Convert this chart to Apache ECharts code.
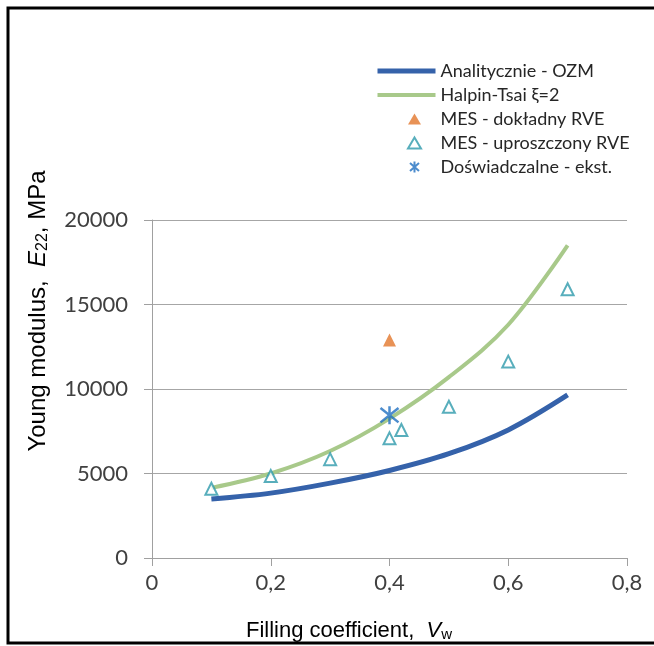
<!DOCTYPE html>
<html>
<head>
<meta charset="utf-8">
<title>Young modulus vs filling coefficient</title>
<script src="https://cdn.jsdelivr.net/npm/echarts@6/dist/echarts.min.js"></script>
<style>
  html, body { margin: 0; padding: 0; background: #ffffff; }
  #main { width: 654px; height: 646px; }
</style>
</head>
<body>
<div id="main"></div>
<script>
// dane
var seriesNames = ['Analitycznie - OZM', 'Halpin-Tsai ξ=2', 'MES - dokładny RVE', 'MES - uproszczony RVE', 'Doświadczalne - ekst.']
var curveV = [0.1, 0.2, 0.3, 0.4, 0.5, 0.6, 0.7]
var analyticE = [3490, 3840, 4430, 5180, 6170, 7580, 9650]
var halpinE = [4150, 5000, 6330, 8250, 10700, 13800, 18500]
var mesFullV = [0.4]
var mesFullE = [12900]
var mesSimpleV = [0.1, 0.2, 0.3, 0.4, 0.42, 0.5, 0.6, 0.7]
var mesSimpleE = [4100, 4850, 5850, 7080, 7570, 8950, 11620, 15900]
var expV = [0.4]
var expE = [8450]
var xTicks = [0, 0.2, 0.4, 0.6, 0.8]
var yTicks = [0, 5000, 10000, 15000, 20000]

function pairs(xs, ys) {
  var out = []
  for (var i = 0; i < xs.length; i++) {
    out.push([xs[i], ys[i]])
  }
  return out
}

var tickFont = 'Lato, "Liberation Sans", sans-serif'
var titleFont = '"Liberation Sans", Arial, sans-serif'
var asterisk = 'path://M0,-10L0,10M-7,-8L7,8M-7,8L7,-8'
// ikony legendy: pierwsze dwa M wyznaczaja ramke 58x14, znak lezy w niej
var legendTriangle = 'path://M0,0M58,14M37,1.5L43.5,12.5L30.5,12.5Z'
var legendAsterisk = 'path://M0,0M58,14M37,1.5L37,12.5M32.5,3L41.5,11M32.5,11L41.5,3'

var chart = echarts.init(document.getElementById('main'))
var option = {
  animation: false,
  backgroundColor: '#ffffff',
  grid: { left: 152, right: 27, top: 220, bottom: 88 },
  legend: {
    orient: 'vertical',
    left: 370,
    top: 56,
    itemWidth: 58,
    itemHeight: 14,
    itemGap: 4,
    textStyle: { fontFamily: tickFont, fontSize: 18, color: '#262626', lineHeight: 20 },
    data: [
      { name: seriesNames[0], icon: 'path://M0,0L58,0L58,5L0,5Z' },
      { name: seriesNames[1], icon: 'path://M0,0L58,0L58,4L0,4Z' },
      { name: seriesNames[2], icon: legendTriangle },
      { name: seriesNames[3], icon: legendTriangle },
      { name: seriesNames[4], icon: legendAsterisk }
    ]
  },
  xAxis: {
    type: 'value',
    min: xTicks[0],
    max: xTicks[xTicks.length - 1],
    interval: 0.2,
    splitLine: { show: false },
    axisLine: { lineStyle: { color: '#a0a0a0', width: 1 } },
    axisTick: { show: true, length: 8, lineStyle: { color: '#a0a0a0' } },
    axisLabel: {
      margin: 14,
      fontFamily: tickFont,
      fontSize: 22,
      color: '#404040',
      formatter: function(v) { return String(Math.round(v * 10) / 10).replace('.', ',') }
    }
  },
  yAxis: {
    type: 'value',
    min: yTicks[0],
    max: yTicks[yTicks.length - 1],
    interval: 5000,
    splitLine: { lineStyle: { color: '#a6a6a6', width: 1 } },
    axisLine: { show: true, lineStyle: { color: '#a0a0a0', width: 1 } },
    axisTick: { show: true, length: 8, lineStyle: { color: '#a0a0a0' } },
    axisLabel: {
      margin: 24,
      fontFamily: tickFont,
      fontSize: 22,
      color: '#404040',
      formatter: function(v) { return String(v) }
    }
  },
  graphic: [
    {
      type: 'rect',
      silent: true,
      shape: { x: 8, y: 8, width: 700, height: 635 },
      style: { fill: 'none', stroke: '#000000', lineWidth: 3 }
    },
    {
      type: 'text',
      x: 349,
      y: 631,
      style: {
        text: 'Filling coefficient,  {i|V}{s|w}',
        fontFamily: titleFont,
        fontSize: 22,
        fill: '#000000',
        align: 'center',
        verticalAlign: 'middle',
        rich: {
          i: { fontFamily: titleFont, fontSize: 22, fontStyle: 'italic', fill: '#000000' },
          s: { fontFamily: titleFont, fontSize: 15, fill: '#000000', verticalAlign: 'bottom', padding: [8, 0, 0, 0] }
        }
      }
    },
    {
      type: 'text',
      x: 38,
      y: 311,
      rotation: Math.PI / 2,
      style: {
        text: 'Young modulus,  {i|E}{s|22}, MPa',
        fontFamily: titleFont,
        fontSize: 24,
        fill: '#000000',
        align: 'center',
        verticalAlign: 'middle',
        rich: {
          i: { fontFamily: titleFont, fontSize: 24, fontStyle: 'italic', fill: '#000000' },
          s: { fontFamily: titleFont, fontSize: 16, fill: '#000000', verticalAlign: 'bottom', padding: [9, 0, 0, 0] }
        }
      }
    }
  ],
  series: [
    {
      name: seriesNames[1],
      type: 'line',
      smooth: 0.35,
      symbol: 'none',
      z: 2,
      lineStyle: { color: '#a8c98a', width: 4 },
      itemStyle: { color: '#a8c98a' },
      data: pairs(curveV, halpinE)
    },
    {
      name: seriesNames[0],
      type: 'line',
      smooth: 0.35,
      symbol: 'none',
      z: 3,
      lineStyle: { color: '#3562aa', width: 5 },
      itemStyle: { color: '#3562aa' },
      data: pairs(curveV, analyticE)
    },
    {
      name: seriesNames[2],
      type: 'scatter',
      symbol: 'triangle',
      symbolSize: 13,
      z: 4,
      itemStyle: { color: '#e2772c' },
      data: pairs(mesFullV, mesFullE)
    },
    {
      name: seriesNames[3],
      type: 'scatter',
      symbol: 'triangle',
      symbolSize: 12,
      z: 4,
      itemStyle: { color: '#ffffff', borderColor: '#2e9aab', borderWidth: 2 },
      data: pairs(mesSimpleV, mesSimpleE)
    },
    {
      name: seriesNames[4],
      type: 'scatter',
      symbol: asterisk,
      symbolSize: 18,
      z: 5,
      itemStyle: { color: 'none', borderColor: '#1f6fc0', borderWidth: 2.5 },
      data: pairs(expV, expE)
    }
  ]
}
chart.setOption(option)
</script>
</body>
</html>
